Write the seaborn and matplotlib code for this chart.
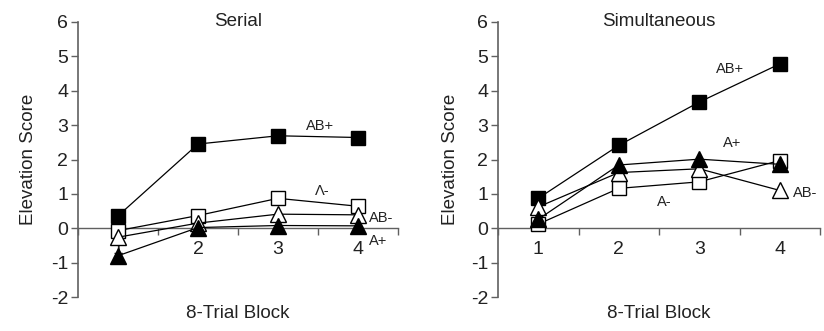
import matplotlib
matplotlib.use("Agg")
import matplotlib.pyplot as plt
import seaborn as sns
import pandas as pd

sns.set_theme(style="white")
plt.rcParams['font.family'] = ['Liberation Sans', 'DejaVu Sans']

blocks = [1, 2, 3, 4]
block_labels = ["1", "2", "3", "4"]
y_ticks = [-2, -1, 0, 1, 2, 3, 4, 5, 6]
panel_titles = ["Serial", "Simultaneous"]
series_names = ["AB+", "A-", "AB-", "A+"]

serial_ab_plus = [0.36, 2.45, 2.69, 2.64]
serial_a_minus = [-0.07, 0.37, 0.87, 0.64]
serial_ab_minus = [-0.26, 0.15, 0.41, 0.39]
serial_a_plus = [-0.80, 0.02, 0.08, 0.07]

simul_ab_plus = [0.87, 2.41, 3.67, 4.78]
simul_a_minus = [0.12, 1.16, 1.35, 1.97]
simul_ab_minus = [0.62, 1.62, 1.73, 1.10]
simul_a_plus = [0.26, 1.84, 2.01, 1.86]

styles = {
    "AB+": dict(marker="s", markerfacecolor="black", markersize=10),
    "A-": dict(marker="s", markerfacecolor="white", markersize=10),
    "AB-": dict(marker="^", markerfacecolor="white", markersize=11),
    "A+": dict(marker="^", markerfacecolor="black", markersize=11),
}

panels = [
    {"AB+": serial_ab_plus, "A-": serial_a_minus, "AB-": serial_ab_minus, "A+": serial_a_plus},
    {"AB+": simul_ab_plus, "A-": simul_a_minus, "AB-": simul_ab_minus, "A+": simul_a_plus},
]

# label text, x, y, ha
annotations = [
    [("AB+", 3.52, 2.97, "center"), ("Λ-", 3.55, 1.08, "center"),
     ("AB-", 4.14, 0.29, "left"), ("A+", 4.14, -0.38, "left")],
    [("AB+", 3.38, 4.62, "center"), ("A+", 3.41, 2.47, "center"),
     ("AB-", 4.17, 1.03, "left"), ("A-", 2.56, 0.76, "center")],
]

fig = plt.figure(figsize=(8.24, 3.31), dpi=100)
axes_rects = [[78/824, 34/331, 320/824, 275/331],
              [498/824, 34/331, 322/824, 275/331]]
label_x = [-0.128, -0.121]
axis_color = "#606060"

for i, rect in enumerate(axes_rects):
    ax = fig.add_axes(rect)
    ax.set_facecolor("none")
    for name in series_names:
        df = pd.DataFrame({"block": blocks, "score": panels[i][name]})
        sns.lineplot(data=df, x="block", y="score", ax=ax, color="black",
                     linewidth=0.9, markeredgecolor="black", markeredgewidth=1.0,
                     clip_on=False, zorder=5, **styles[name])
    ax.set_xlim(0.5, 4.5)
    ax.set_ylim(-2, 6)
    ax.set_yticks(y_ticks)
    ax.set_yticklabels([str(t) for t in y_ticks])
    ax.set_xticks(blocks)
    ax.set_xticklabels(block_labels)
    ax.set_xticks([0.5, 1.5, 2.5, 3.5, 4.5], minor=True)
    ax.tick_params(axis="x", which="both", bottom=True)
    ax.tick_params(axis="y", which="both", left=True)
    ax.tick_params(axis="x", which="major", length=0, pad=9, labelsize=14, labelcolor="#222222")
    ax.tick_params(axis="x", which="minor", length=5, width=1, direction="out", color=axis_color)
    ax.tick_params(axis="y", length=5, width=1, direction="out", pad=2, labelsize=14,
                   labelcolor="#222222", color=axis_color)
    for s in ["top", "right"]:
        ax.spines[s].set_visible(False)
    ax.spines["bottom"].set_position(("data", 0))
    ax.spines["bottom"].set_color(axis_color)
    ax.spines["left"].set_color(axis_color)
    ax.spines["bottom"].set_linewidth(1.0)
    ax.spines["left"].set_linewidth(1.2)
    ax.set_xlabel("8-Trial Block", fontsize=13.5, color="#222222")
    ax.xaxis.set_label_coords(0.5, -0.03)
    ax.set_ylabel("Elevation Score", fontsize=13.5, color="#222222")
    ax.yaxis.set_label_coords(label_x[i], 0.5)
    ax.set_title(panel_titles[i], fontsize=13.5, y=0.985, pad=0, color="#222222")
    for txt, x, y, ha in annotations[i]:
        ax.text(x, y, txt, ha=ha, va="center", fontsize=10.5, color="#222222", clip_on=False)

fig.savefig("out.png", dpi=100)
